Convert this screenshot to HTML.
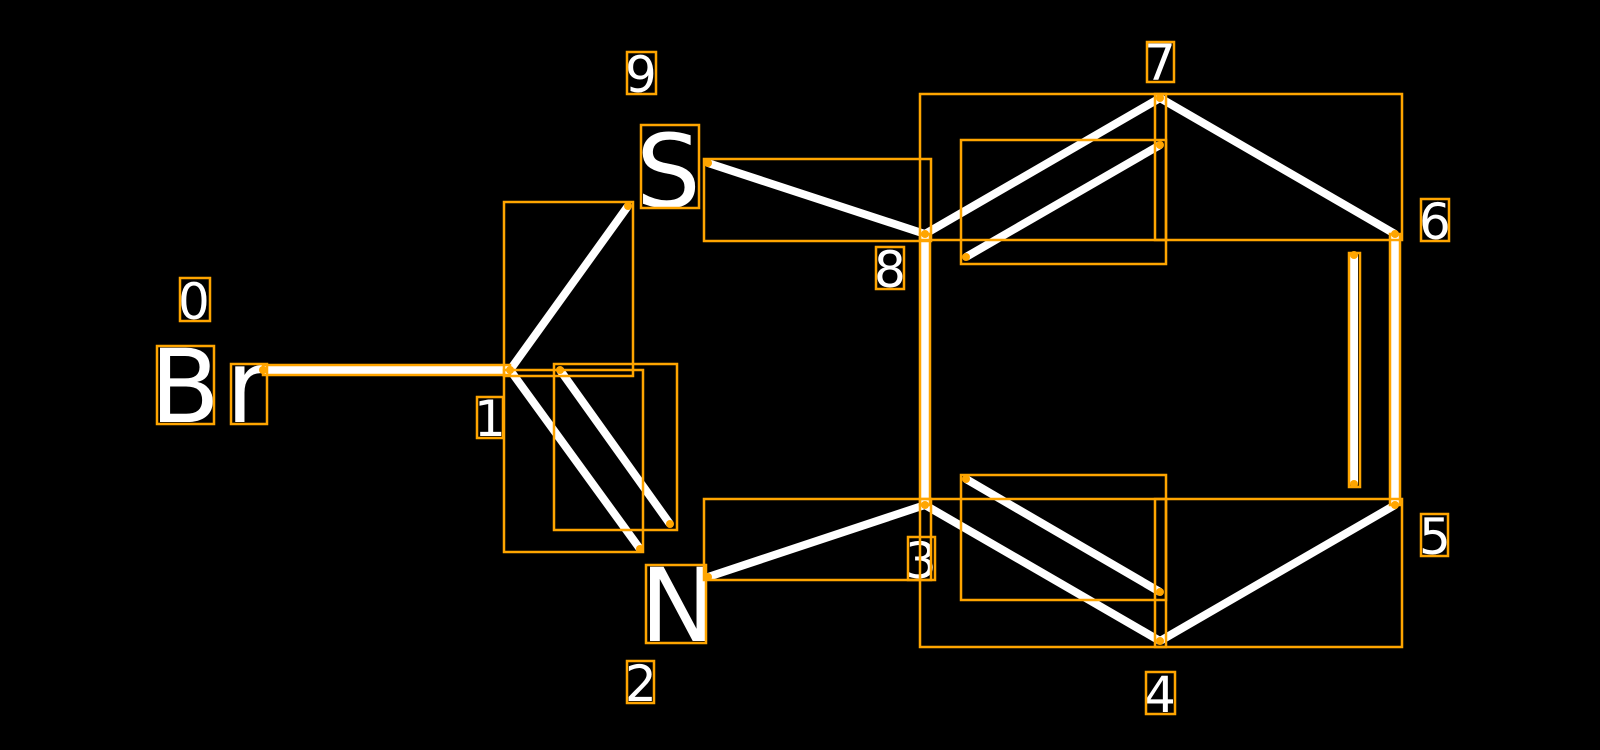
<!DOCTYPE html>
<html><head><style>html,body{margin:0;padding:0;background:#000;width:1600px;height:750px;overflow:hidden}</style></head>
<body>
<svg width="1600" height="750" viewBox="0 0 1600 750" xmlns="http://www.w3.org/2000/svg">
<rect width="1600" height="750" fill="#000"/>
<g stroke="#fff" stroke-width="8" stroke-linecap="butt">
<line x1="263" y1="370" x2="510" y2="370"/>
<line x1="510" y1="370" x2="628" y2="206"/>
<line x1="510" y1="370" x2="640" y2="549"/>
<line x1="560" y1="370" x2="670" y2="524"/>
<line x1="708" y1="163" x2="925" y2="234"/>
<line x1="708" y1="577" x2="925" y2="505"/>
<line x1="925" y1="234" x2="925" y2="505"/>
<line x1="925" y1="234" x2="1160" y2="98"/>
<line x1="966" y1="257" x2="1160" y2="145"/>
<line x1="1160" y1="98" x2="1395" y2="234"/>
<line x1="1395" y1="234" x2="1395" y2="505"/>
<line x1="1354" y1="255" x2="1354" y2="484"/>
<line x1="1395" y1="505" x2="1160" y2="641"/>
<line x1="925" y1="505" x2="1160" y2="641"/>
<line x1="966" y1="479" x2="1160" y2="592"/>
</g>
<g fill="#fff" font-family="DejaVu Sans, Liberation Sans, sans-serif">
<text x="150" y="422" font-size="102">B</text>
<text x="226" y="422" font-size="102">r</text>
<text x="636" y="207" font-size="102">S</text>
<text x="640" y="641" font-size="102">N</text>
<g font-size="50">
<text x="178" y="319">0</text>
<text x="474" y="436">1</text>
<text x="625" y="701">2</text>
<text x="905" y="578">3</text>
<text x="1144" y="712">4</text>
<text x="1419" y="554">5</text>
<text x="1419" y="239">6</text>
<text x="1144" y="80">7</text>
<text x="874" y="287">8</text>
<text x="625" y="92">9</text>
</g>
</g>
<g fill="none" stroke="#FFA500" stroke-width="2.5">
<rect x="157" y="346" width="57" height="78"/>
<rect x="231" y="364" width="36" height="60"/>
<rect x="180" y="278" width="30" height="43"/>
<rect x="477" y="397" width="26" height="41"/>
<rect x="627" y="52" width="29" height="42"/>
<rect x="641" y="125" width="58" height="83"/>
<rect x="646" y="565" width="60" height="78"/>
<rect x="627" y="661" width="27" height="42"/>
<rect x="876" y="247" width="28" height="42"/>
<rect x="908" y="537" width="27" height="43"/>
<rect x="1147" y="42" width="27" height="40"/>
<rect x="1421" y="199" width="28" height="42"/>
<rect x="1421" y="514" width="27" height="42"/>
<rect x="1146" y="672" width="29" height="42"/>
<rect x="263" y="365" width="247" height="10"/>
<rect x="504" y="202" width="129" height="174"/>
<rect x="504" y="370" width="139" height="182"/>
<rect x="554" y="364" width="123" height="166"/>
<rect x="704" y="159" width="227" height="82"/>
<rect x="704" y="499" width="227" height="81"/>
<rect x="920" y="234" width="10" height="271"/>
<rect x="920" y="94" width="246" height="146"/>
<rect x="961" y="140" width="205" height="124"/>
<rect x="1155" y="94" width="247" height="146"/>
<rect x="1390" y="234" width="10" height="271"/>
<rect x="1349" y="253" width="11" height="234"/>
<rect x="1155" y="499" width="247" height="148"/>
<rect x="920" y="499" width="246" height="148"/>
<rect x="961" y="475" width="205" height="125"/>
</g>
<g fill="#FFA500">
<circle cx="263" cy="370" r="4"/><circle cx="510" cy="370" r="4"/>
<circle cx="628" cy="206" r="4"/><circle cx="640" cy="549" r="4"/>
<circle cx="560" cy="370" r="4"/><circle cx="670" cy="524" r="4"/>
<circle cx="708" cy="163" r="4"/><circle cx="708" cy="577" r="4"/>
<circle cx="925" cy="234" r="4"/><circle cx="925" cy="505" r="4"/>
<circle cx="1160" cy="98" r="4"/><circle cx="1160" cy="145" r="4"/>
<circle cx="966" cy="257" r="4"/><circle cx="1395" cy="234" r="4"/>
<circle cx="1395" cy="505" r="4"/><circle cx="1354" cy="255" r="4"/>
<circle cx="1354" cy="484" r="4"/><circle cx="1160" cy="641" r="4"/>
<circle cx="966" cy="479" r="4"/><circle cx="1160" cy="592" r="4"/>
</g>
</svg>
</body></html>
